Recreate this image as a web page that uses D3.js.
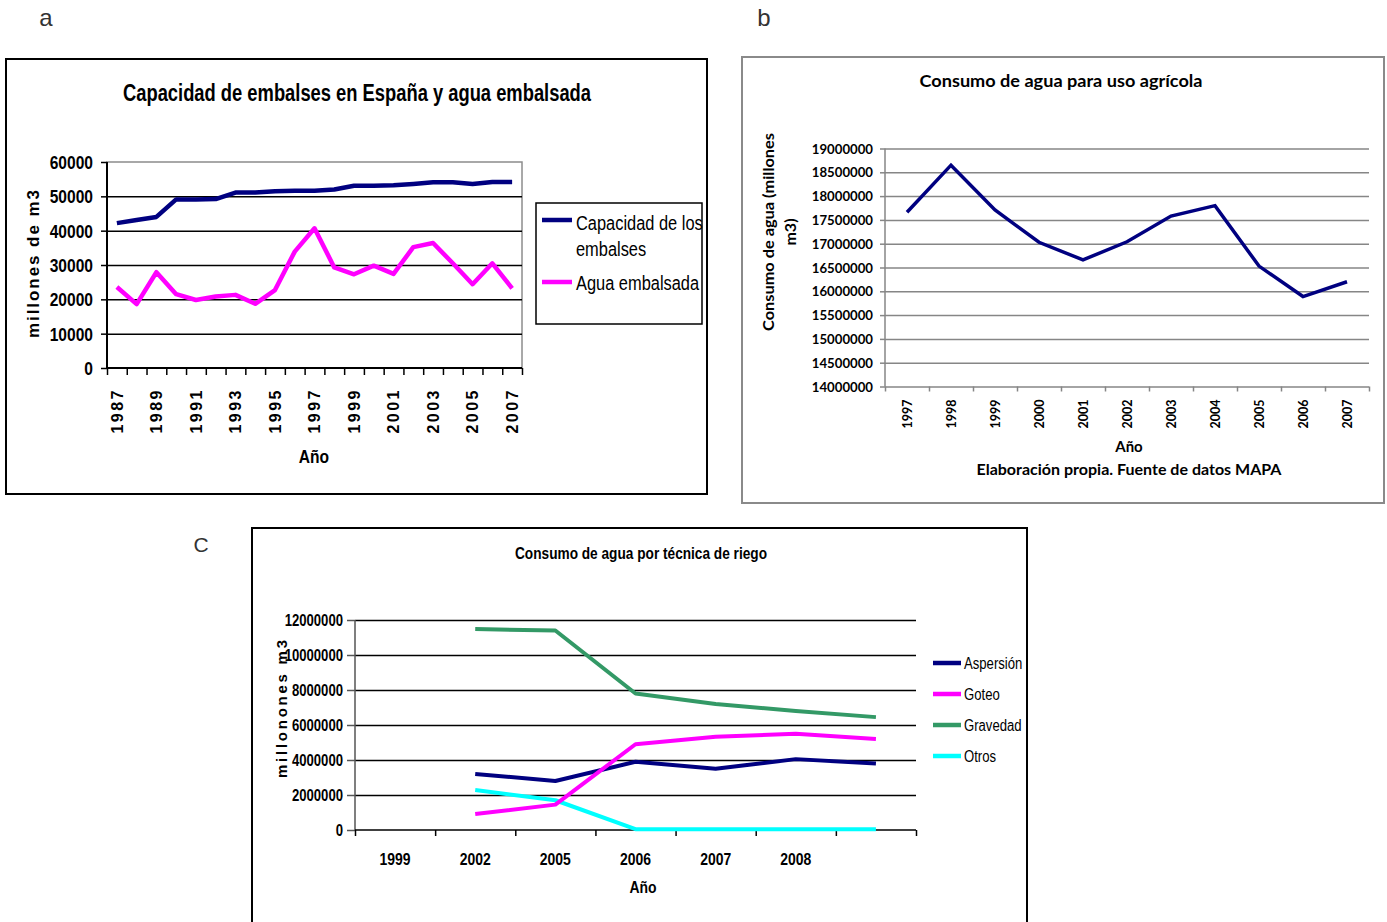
<!DOCTYPE html>
<html>
<head>
<meta charset="utf-8">
<script src="https://cdn.jsdelivr.net/npm/d3@7"></script>
<style>
  body { margin: 0; background: #fff; }
  svg { display: block; }
  .narrow { font-family: "Liberation Sans Narrow", "Arial Narrow", "Liberation Sans", Arial, sans-serif; }
  .arial { font-family: "Liberation Sans", Arial, sans-serif; }
  .cal { font-family: Lato, "Noto Sans", sans-serif; }
  .domain { display: none; }
</style>
</head>
<body>
<svg id="fig" width="1387" height="922"></svg>
<script>
// ---- Panel a: reservoir capacity vs stored water (hm3) ----
const yearsA = ["1987","1988","1989","1990","1991","1992","1993","1994","1995","1996","1997",
                "1998","1999","2000","2001","2002","2003","2004","2005","2006","2007"];
const capacidadEmbalses = [42200,43100,44000,49100,49100,49200,51100,51100,51500,51600,51600,
                           52000,53100,53100,53200,53600,54100,54100,53600,54200,54200];
const aguaEmbalsada = [23600,18600,27900,21500,19800,20800,21300,18700,22700,33900,40700,
                       29300,27300,29800,27400,35200,36400,30500,24400,30500,23200];
const ticksA = [0,10000,20000,30000,40000,50000,60000];

// ---- Panel b: agricultural water use ----
const yearsB = ["1997","1998","1999","2000","2001","2002","2003","2004","2005","2006","2007"];
const consumoAgricola = [17660000,18650000,17710000,17030000,16660000,17040000,
                         17580000,17800000,16530000,15890000,16200000];
const ticksB = [14000000,14500000,15000000,15500000,16000000,16500000,
                17000000,17500000,18000000,18500000,19000000];

// ---- Panel c: water use by irrigation technique ----
const categoriasC = ["1999","2002","2005","2006","2007","2008",""];
const aspersion = [null,3200000,2800000,3900000,3500000,4050000,3800000];
const goteo     = [null,910000,1450000,4900000,5330000,5500000,5200000];
const gravedad  = [null,11480000,11400000,7800000,7200000,6800000,6450000];
const otros     = [null,2280000,1700000,50000,40000,40000,40000];
const ticksC = [0,2000000,4000000,6000000,8000000,10000000,12000000];

const svg = d3.select("#fig");

function styleAxis(g, color, width) {
  g.selectAll("line").attr("stroke", color).attr("stroke-width", width);
}

// Squeeze regular sans text to a condensed width (narrow face look)
function condense(sel, f = 0.82) {
  sel.each(function () {
    const w = this.getComputedTextLength();
    if (w > 0) d3.select(this).attr("textLength", w * f).attr("lengthAdjust", "spacingAndGlyphs");
  });
  return sel;
}

// Panel letters
svg.append("text").attr("class","arial").attr("x",46).attr("y",26).attr("text-anchor","middle")
  .attr("font-size",24).attr("fill","#333").text("a");
svg.append("text").attr("class","arial").attr("x",764).attr("y",26).attr("text-anchor","middle")
  .attr("font-size",24).attr("fill","#333").text("b");
svg.append("text").attr("class","arial").attr("x",201).attr("y",552).attr("text-anchor","middle")
  .attr("font-size",21).attr("fill","#333").text("C");

// ================= Panel a =================
(function () {
  const L = 107, R = 522, T = 162, B = 368;
  svg.append("rect").attr("x",6).attr("y",59).attr("width",701).attr("height",435)
    .attr("fill","none").attr("stroke","#000").attr("stroke-width",2);

  const x = d3.scaleBand().domain(yearsA).range([L, R]).padding(0);
  const xi = d3.scaleLinear().domain([0, yearsA.length]).range([L, R]);
  const y = d3.scaleLinear().domain([0, 60000]).range([B, T]);

  // plot area border
  svg.append("rect").attr("x",L).attr("y",T).attr("width",R-L).attr("height",B-T)
    .attr("fill","none").attr("stroke","#8c8c8c").attr("stroke-width",1.5);

  // gridlines
  const grid = svg.append("g").attr("transform",`translate(${L},0)`)
    .call(d3.axisLeft(y).tickValues(ticksA.filter(v => v > 0 && v < 60000)).tickSize(-(R-L)).tickFormat(""));
  styleAxis(grid, "#000", 1.5);

  // y axis
  const ya = svg.append("g").attr("transform",`translate(${L},0)`)
    .call(d3.axisLeft(y).tickValues(ticksA).tickSize(6).tickPadding(8).tickFormat(d3.format("d")));
  styleAxis(ya, "#000", 1.5);
  condense(ya.selectAll("text").attr("class","narrow").attr("font-weight","bold").attr("font-size",19)
    .attr("fill","#000").attr("dy","0.34em"));
  svg.append("line").attr("x1",L).attr("x2",L).attr("y1",T).attr("y2",B).attr("stroke","#000").attr("stroke-width",2);

  // x axis: ticks at category boundaries
  const xt = svg.append("g").attr("transform",`translate(0,${B})`)
    .call(d3.axisBottom(xi).tickValues(d3.range(yearsA.length + 1)).tickSize(7).tickFormat(""));
  styleAxis(xt, "#000", 1.5);
  svg.append("line").attr("x1",L).attr("x2",R).attr("y1",B).attr("y2",B).attr("stroke","#000").attr("stroke-width",2);

  const xl = svg.append("g").attr("transform",`translate(0,${B})`)
    .call(d3.axisBottom(x).tickSize(0).tickFormat((d, i) => i % 2 === 0 ? d : ""));
  xl.selectAll("text").attr("class","arial").attr("font-weight","bold").attr("font-size",16)
    .attr("letter-spacing","2.5px").attr("fill","#000")
    .attr("transform","rotate(-90)").attr("text-anchor","end")
    .attr("x",-20).attr("y",0).attr("dy","0.36em");

  // series
  const line = d3.line().x((d, i) => x(yearsA[i]) + x.bandwidth() / 2).y(d => y(d));
  svg.append("path").datum(aguaEmbalsada).attr("d", line).attr("fill","none")
    .attr("stroke","#ff00ff").attr("stroke-width",4.5).attr("stroke-linejoin","round");
  svg.append("path").datum(capacidadEmbalses).attr("d", line).attr("fill","none")
    .attr("stroke","#000080").attr("stroke-width",4.5).attr("stroke-linejoin","round");

  // titles
  svg.append("text").attr("class","narrow").attr("x",357).attr("y",101).attr("text-anchor","middle")
    .attr("font-weight","bold").attr("font-size",23).attr("textLength",468).attr("lengthAdjust","spacingAndGlyphs")
    .text("Capacidad de embalses en España y agua embalsada");
  svg.append("text").attr("class","arial").attr("transform","translate(39,264) rotate(-90)")
    .attr("text-anchor","middle").attr("font-weight","bold").attr("font-size",17)
    .attr("textLength",148).attr("lengthAdjust","spacing").text("millones de m3");
  condense(svg.append("text").attr("class","narrow").attr("x",314).attr("y",463).attr("text-anchor","middle")
    .attr("font-weight","bold").attr("font-size",19).text("Año"));

  // legend
  svg.append("rect").attr("x",536).attr("y",203).attr("width",166).attr("height",121)
    .attr("fill","#fff").attr("stroke","#000").attr("stroke-width",1.5);
  const leg = [
    {c:"#000080", y:220, lines:["Capacidad de los","embalses"], ty:[230,256]},
    {c:"#ff00ff", y:282, lines:["Agua embalsada"], ty:[290]}
  ];
  leg.forEach(e => {
    svg.append("line").attr("x1",542).attr("x2",572).attr("y1",e.y).attr("y2",e.y)
      .attr("stroke",e.c).attr("stroke-width",4.5);
    e.lines.forEach((t, k) => condense(svg.append("text").attr("class","narrow").attr("x",576).attr("y",e.ty[k])
      .attr("font-size",20).attr("fill","#000").text(t)));
  });
})();

// ================= Panel b =================
(function () {
  const L = 885, R = 1369, T = 148.5, B = 386.5;
  svg.append("rect").attr("x",742).attr("y",57).attr("width",642).attr("height",446)
    .attr("fill","none").attr("stroke","#8a8a8a").attr("stroke-width",2);

  const x = d3.scaleBand().domain(yearsB).range([L, R]).padding(0);
  const xi = d3.scaleLinear().domain([0, yearsB.length]).range([L, R]);
  const y = d3.scaleLinear().domain([14000000, 19000000]).range([B, T]);

  const grid = svg.append("g").attr("transform",`translate(${L},0)`)
    .call(d3.axisLeft(y).tickValues(ticksB).tickSize(-(R-L)).tickFormat(""));
  styleAxis(grid, "#868686", 1.5);

  const ya = svg.append("g").attr("transform",`translate(${L},0)`)
    .call(d3.axisLeft(y).tickValues(ticksB).tickSize(5).tickPadding(7).tickFormat(d3.format("d")));
  styleAxis(ya, "#868686", 1.5);
  ya.selectAll("text").attr("class","cal").attr("font-weight","bold").attr("font-size",13.2)
    .attr("fill","#000").attr("dy","0.34em");
  svg.append("line").attr("x1",L).attr("x2",L).attr("y1",T).attr("y2",B).attr("stroke","#868686").attr("stroke-width",1.5);

  const xt = svg.append("g").attr("transform",`translate(0,${B})`)
    .call(d3.axisBottom(xi).tickValues(d3.range(yearsB.length + 1)).tickSize(5).tickFormat(""));
  styleAxis(xt, "#868686", 1.5);

  const xl = svg.append("g").attr("transform",`translate(0,${B})`)
    .call(d3.axisBottom(x).tickSize(0));
  xl.selectAll("text").attr("class","cal").attr("font-weight","bold").attr("font-size",12.5)
    .attr("fill","#000").attr("transform","rotate(-90)").attr("text-anchor","end")
    .attr("x",-13).attr("y",0).attr("dy","0.36em");

  const line = d3.line().x((d, i) => x(yearsB[i]) + x.bandwidth() / 2).y(d => y(d));
  svg.append("path").datum(consumoAgricola).attr("d", line).attr("fill","none")
    .attr("stroke","#000080").attr("stroke-width",3.5).attr("stroke-linejoin","miter");

  svg.append("text").attr("class","cal").attr("x",1061).attr("y",87).attr("text-anchor","middle")
    .attr("font-weight","bold").attr("font-size",17).attr("textLength",283).attr("lengthAdjust","spacingAndGlyphs")
    .text("Consumo de agua para uso agrícola");
  const yt = svg.append("text").attr("class","cal").attr("transform","translate(774,232) rotate(-90)")
    .attr("text-anchor","middle").attr("font-weight","bold").attr("font-size",16);
  yt.append("tspan").attr("x",0).attr("y",0).attr("textLength",198).attr("lengthAdjust","spacingAndGlyphs")
    .text("Consumo de agua (millones");
  yt.append("tspan").attr("x",0).attr("y",22).text("m3)");
  svg.append("text").attr("class","cal").attr("x",1129).attr("y",452).attr("text-anchor","middle")
    .attr("font-weight","bold").attr("font-size",15).text("Año");
  svg.append("text").attr("class","cal").attr("x",1129).attr("y",475).attr("text-anchor","middle")
    .attr("font-weight","bold").attr("font-size",15).attr("textLength",305).attr("lengthAdjust","spacingAndGlyphs")
    .text("Elaboración propia. Fuente de datos MAPA");
})();

// ================= Panel c =================
(function () {
  const L = 355, R = 916, T = 620, B = 830;
  svg.append("rect").attr("x",252).attr("y",528).attr("width",775).attr("height",400)
    .attr("fill","none").attr("stroke","#000").attr("stroke-width",2);

  const x = d3.scaleBand().domain(categoriasC.map((d, i) => i)).range([L, R]).padding(0);
  const xi = d3.scaleLinear().domain([0, categoriasC.length]).range([L, R]);
  const y = d3.scaleLinear().domain([0, 12000000]).range([B, T]);

  const grid = svg.append("g").attr("transform",`translate(${L},0)`)
    .call(d3.axisLeft(y).tickValues(ticksC.filter(v => v > 0)).tickSize(-(R-L)).tickFormat(""));
  styleAxis(grid, "#000", 1.5);

  const ya = svg.append("g").attr("transform",`translate(${L},0)`)
    .call(d3.axisLeft(y).tickValues(ticksC).tickSize(8).tickPadding(4).tickFormat(d3.format("d")));
  styleAxis(ya, "#555", 1.5);
  condense(ya.selectAll("text").attr("class","narrow").attr("font-weight","bold").attr("font-size",16)
    .attr("fill","#000").attr("dy","0.34em"));
  svg.append("line").attr("x1",L).attr("x2",L).attr("y1",T).attr("y2",B).attr("stroke","#555").attr("stroke-width",1.5);

  const xt = svg.append("g").attr("transform",`translate(0,${B})`)
    .call(d3.axisBottom(xi).tickValues(d3.range(categoriasC.length + 1)).tickSize(6).tickFormat(""));
  styleAxis(xt, "#000", 1.5);
  svg.append("line").attr("x1",L).attr("x2",R).attr("y1",B).attr("y2",B).attr("stroke","#000").attr("stroke-width",1.5);

  const xl = svg.append("g").attr("transform",`translate(0,${B})`)
    .call(d3.axisBottom(x).tickSize(0).tickFormat(i => categoriasC[i]));
  condense(xl.selectAll("text").attr("class","narrow").attr("font-weight","bold").attr("font-size",17)
    .attr("fill","#000").attr("y",35).attr("dy",0));

  const line = d3.line().defined(d => d != null)
    .x((d, i) => x(i) + x.bandwidth() / 2).y(d => y(d));
  const series = [
    {name:"Aspersión", c:"#000080", v:aspersion},
    {name:"Goteo",     c:"#ff00ff", v:goteo},
    {name:"Gravedad",  c:"#339966", v:gravedad},
    {name:"Otros",     c:"#00ffff", v:otros}
  ];
  [series[2], series[3], series[0], series[1]].forEach(s => {
    svg.append("path").datum(s.v).attr("d", line).attr("fill","none")
      .attr("stroke", s.c).attr("stroke-width",4).attr("stroke-linejoin","round");
  });

  svg.append("text").attr("class","narrow").attr("x",641).attr("y",559).attr("text-anchor","middle")
    .attr("font-weight","bold").attr("font-size",17).attr("textLength",252).attr("lengthAdjust","spacingAndGlyphs")
    .text("Consumo de agua por técnica de riego");
  svg.append("text").attr("class","arial").attr("transform","translate(287,709) rotate(-90)")
    .attr("text-anchor","middle").attr("font-weight","bold").attr("font-size",15)
    .attr("textLength",138).attr("lengthAdjust","spacing").text("millonones m3");
  condense(svg.append("text").attr("class","narrow").attr("x",643).attr("y",893).attr("text-anchor","middle")
    .attr("font-weight","bold").attr("font-size",17).text("Año"));

  series.forEach((s, k) => {
    const yy = 663 + k * 31;
    svg.append("line").attr("x1",933).attr("x2",961).attr("y1",yy).attr("y2",yy)
      .attr("stroke", s.c).attr("stroke-width",4.5);
    condense(svg.append("text").attr("class","narrow").attr("x",964).attr("y",yy + 6)
      .attr("font-size",16).attr("fill","#000").text(s.name));
  });
})();
</script>
</body>
</html>
